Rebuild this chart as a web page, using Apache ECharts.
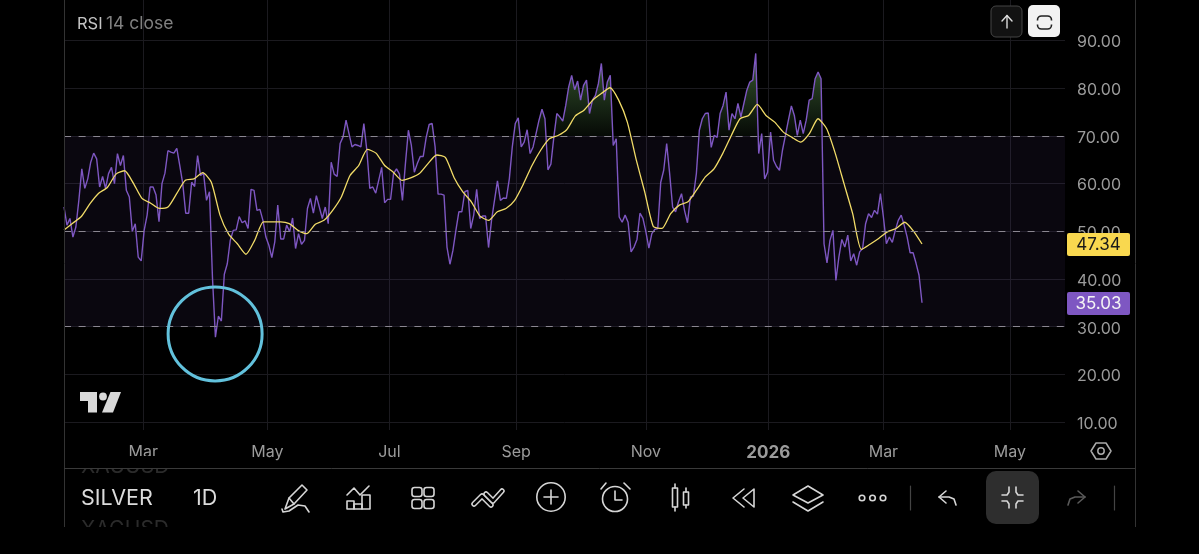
<!DOCTYPE html>
<html>
<head>
<meta charset="utf-8">
<style>
  html, body { margin: 0; padding: 0; background: #000; }
  #main { width: 1199px; height: 554px; }
</style>
<script src="https://cdn.jsdelivr.net/npm/echarts@6/dist/echarts.min.js"></script>
</head>
<body>
<div id="main"></div>
<script>
// daily RSI values, one per bar
const rsiValues = [
  55.1,51.3,52.7,48.8,50.9,56.5,63.1,59.0,61.0,64.5,
  66.4,65.2,59.3,61.5,59.0,62.1,63.4,60.0,66.3,63.8,
  65.9,58.6,57.2,50.0,51.6,44.6,43.8,50.2,53.4,59.3,
  59.3,57.6,52.0,60.0,62.2,66.9,66.6,66.4,67.4,63.8,
  60.0,53.8,53.8,60.3,59.4,65.9,61.7,62.2,56.5,58.3,
  40.4,27.8,32.2,31.2,41.0,43.2,48.1,50.2,50.3,53.1,
  51.8,52.2,50.6,58.8,58.6,54.4,54.6,52.3,48.8,47.1,
  44.5,47.8,55.5,48.4,48.4,51.3,49.9,52.8,46.4,49.5,
  47.3,48.1,54.8,56.9,53.8,57.5,55.1,52.7,55.1,51.6,
  64.5,62.0,61.5,68.4,69.8,73.3,70.5,67.7,68.2,68.0,
  67.7,72.6,67.0,59.0,59.3,58.0,60.7,63.4,56.0,56.7,
  56.7,62.1,63.1,62.0,
  56.5,64.2,71.2,68.0,62.4,64.2,65.7,65.7,69.7,72.4,
  72.6,67.7,57.8,57.8,57.6,46.7,43.1,46.0,50.2,54.1,
  54.1,58.3,58.6,50.6,53.4,58.8,52.7,53.2,53.2,46.6,
  52.3,56.5,60.6,56.5,57.0,56.9,61.0,67.7,72.6,73.8,
  67.7,68.7,71.3,66.3,67.7,70.5,73.3,75.6,73.6,62.9,
  64.1,69.8,74.7,74.0,73.1,76.4,80.3,82.7,79.7,81.5,
  77.5,80.6,81.7,74.7,77.5,78.5,81.0,85.2,77.5,81.3,
  82.7,68.0,69.4,53.0,51.9,53.4,51.9,45.7,46.7,48.3,
  53.8,52.7,49.9,46.5,49.5,50.4,50.6,60.3,62.8,68.4,
  62.1,55.1,54.1,56.2,57.9,54.4,51.8,57.2,57.4,62.1,
  71.2,73.6,74.7,74.8,67.6,70.1,69.7,74.7,76.4,79.2,
  71.2,74.7,73.6,76.8,
  74.0,76.8,79.6,81.3,81.7,87.3,66.3,70.5,61.0,62.4,
  70.8,64.9,63.6,62.8,67.0,70.1,73.3,76.3,74.3,70.1,
  73.3,70.5,73.3,77.5,77.8,82.0,83.4,82.0,47.4,43.4,
  48.1,50.2,39.7,44.6,48.3,46.7,49.2,43.8,45.3,42.9,
  45.7,46.4,51.6,53.7,52.9,54.4,53.6,57.9,53.0,47.4,
  48.8,47.7,50.2,52.3,53.4,51.3,48.8,45.5,45.5,43.3,
  40.8,35.03
];

// moving average, read about every third bar
const maValues = [
  50.3,51.7,53.1,55.8,58.0,59.2,62.0,62.7,60.1,56.9,
  55.9,54.8,55.1,57.9,60.7,61.0,62.3,60.3,53.4,49.4,
  47.4,45.2,48.1,52.0,52.0,52.0,51.6,50.2,49.5,51.5,
  52.3,54.4,57.2,61.7,63.8,67.2,66.4,63.8,62.4,
  60.7,61.2,62.1,64.2,66.0,65.5,61.3,58.3,56.2,53.2,
  52.3,54.1,54.8,56.5,59.9,63.8,67.0,69.4,70.1,71.3,
  74.2,75.4,77.5,78.9,80.1,77.5,72.9,65.2,58.3,51.0,
  50.6,53.7,55.5,56.2,58.7,61.4,63.1,66.3,70.1,73.6,
  74.3,76.6,74.3,72.9,70.8,69.7,68.7,70.5,73.6,71.5,
  66.3,60.0,53.7,46.2,47.3,48.5,49.9,50.6,51.9,50.1,47.34
];

const yTicks = [10, 20, 30, 40, 50, 60, 70, 80, 90];
const bandLevels = [70, 50, 30];
const xTickBars = [26.7, 68.5, 109.6, 152.3, 196, 237.2, 276, 318.6];
const xTickLabels = ['Mar', 'May', 'Jul', 'Sep', 'Nov', '2026', 'Mar', 'May'];
const lastRsi = '35.03';
const lastMa = '47.34';
const circledLow = [50.9, 28.5];

const GRID_LEFT = 64, GRID_W = 1001, GRID_H = 430;
const PX_PER_BAR = 858 / (rsiValues.length - 1);
const FONT = 'Inter, "Noto Sans", sans-serif';
const GRID_COLOR = '#1b1a1f';
const LABEL_COLOR = '#9b9b9b';
const ICON = '#d6d6d6';

const maStep = (rsiValues.length - 1) / (maValues.length - 1);
const rsiData = rsiValues.map((v, i) => [i, v]);
const maData = maValues.map((v, i) => [i * maStep, v]);

// part of the rsi above 70, with the crossing points added so the fill starts on the line
const overData = [];
rsiValues.forEach((v, i) => {
  if (i > 0) {
    const p = rsiValues[i - 1];
    if ((p - 70) * (v - 70) < 0) overData.push([i - 1 + (70 - p) / (v - p), 70]);
  }
  overData.push([i, Math.max(v, 70)]);
});

// graphic helpers for the app chrome around the chart
const stroke = (c, w) => ({ stroke: c, lineWidth: w, fill: null, lineCap: 'round', lineJoin: 'round' });
const pl = (points, c = ICON, w = 1.6) => ({ type: 'polyline', silent: true, z: 10, shape: { points }, style: stroke(c, w) });
const pg = (points, c = ICON, w = 1.6) => ({ type: 'polygon', silent: true, z: 10, shape: { points }, style: stroke(c, w) });
const box = (x, y, width, height, r, c = ICON, w = 1.6) => ({ type: 'rect', silent: true, z: 10, shape: { x, y, width, height, r }, style: stroke(c, w) });
const fillBox = (x, y, width, height, r, fill, z = 9) => ({ type: 'rect', silent: true, z, shape: { x, y, width, height, r }, style: { fill } });
const ring = (cx, cy, r, c = ICON, w = 1.6) => ({ type: 'circle', silent: true, z: 10, shape: { cx, cy, r }, style: stroke(c, w) });
const dot = (cx, cy, r, fill) => ({ type: 'circle', silent: true, z: 10, shape: { cx, cy, r }, style: { fill } });
const label = (x, y, text, font, fill, z = 10, align = 'left') => ({
  type: 'text', silent: true, z, x, y,
  style: { text, font, fill, textAlign: align, textVerticalAlign: 'middle' }
});

const chrome = [
  // frame
  { type: 'line', silent: true, z: 8, shape: { x1: 64.5, y1: 0, x2: 64.5, y2: 527 }, style: { stroke: '#333', lineWidth: 1 } },
  { type: 'line', silent: true, z: 8, shape: { x1: 1135.5, y1: 0, x2: 1135.5, y2: 527 }, style: { stroke: '#333', lineWidth: 1 } },

  // ghost symbols scrolled behind the toolbar
  label(81, 467, 'XAUUSD', '21px ' + FONT, '#2b2b2b', 1),
  label(81, 530, 'XAGUSD', '21px ' + FONT, '#2b2b2b', 1),
  fillBox(65, 456, 140, 12.5, 0, '#000', 2),
  fillBox(65, 527, 140, 27, 0, '#000', 2),
  { type: 'line', silent: true, z: 8, shape: { x1: 64, y1: 468.5, x2: 1135, y2: 468.5 }, style: { stroke: '#3a3a3a', lineWidth: 1 } },

  // legend
  { type: 'text', silent: true, z: 10, x: 77, y: 24, style: {
    text: '{a|RSI} {b|14 close}', textVerticalAlign: 'middle',
    rich: { a: { font: '16.5px ' + FONT, fill: '#c4c4c4' }, b: { font: '17.5px ' + FONT, fill: '#808080' } }
  } },

  // top right buttons
  { type: 'rect', silent: true, z: 9, shape: { x: 991, y: 6, width: 31, height: 31, r: 5 }, style: { fill: '#121212', stroke: '#444', lineWidth: 1 } },
  pl([[1007, 28], [1007, 15.5]], '#ddd', 1.4), pl([[1002, 21], [1007, 15.5], [1012, 21]], '#ddd', 1.4),
  fillBox(1028, 5, 32, 32, 5, '#f2f2f2'),
  box(1037.5, 16, 14, 13, 4, '#222', 1.6),
  fillBox(1035, 20.5, 5, 4, 0, '#f2f2f2', 11),
  fillBox(1049, 20.5, 5, 4, 0, '#f2f2f2', 11),

  // price tags on the axis
  fillBox(1067, 233, 63, 23, 2, '#f9d84f'),
  label(1098.5, 245, lastMa, '17px ' + FONT, '#1a1a1a', 11, 'center'),
  fillBox(1067, 292, 63, 23, 2, '#7e57c2'),
  label(1098.5, 303.5, lastRsi, '17px ' + FONT, '#f4f4f4', 11, 'center'),

  // tradingview logo
  { type: 'polygon', silent: true, z: 10, shape: { points: [[80, 392], [97, 392], [97, 412.5], [88, 412.5], [88, 401], [80, 401]] }, style: { fill: '#d9d9d9' } },
  dot(103, 396.5, 3.9, '#d9d9d9'),
  { type: 'polygon', silent: true, z: 10, shape: { points: [[110.5, 392], [121, 392], [113, 412.5], [102, 412.5]] }, style: { fill: '#d9d9d9' } },

  // settings hexagon
  pg([[1091, 451], [1096, 443], [1106, 443], [1111, 451], [1106, 459], [1096, 459]], '#aaa', 1.5),
  ring(1101, 451, 3.2, '#aaa', 1.5),

  // toolbar
  label(81, 499, 'SILVER', '21.5px ' + FONT, '#dcdcdc'),
  label(193, 499, '1D', '21.5px ' + FONT, '#dcdcdc'),

  // pen
  pg([[285, 509], [289, 498], [302, 485], [307, 490], [294, 504]]),
  pl([[289, 498], [294, 504]]),
  pl([[309, 512], [305, 506], [298, 505], [289, 511], [283, 512], [282, 509]]),
  // chart
  pl([[347, 495], [354, 488], [360, 495], [369, 486]]),
  box(347, 501, 7, 8, 0), box(354, 504, 8, 5, 0), box(362, 495, 8, 14, 0),
  // grid
  box(412, 487.5, 10, 9, 2.5), box(424, 487.5, 10, 9, 2.5), box(412, 499.5, 10, 9, 2.5), box(424, 499.5, 10, 9, 2.5),
  // double chevrons
  pl([[474, 504], [482, 496], [491, 505]], ICON, 5.5), pl([[474, 504], [482, 496], [491, 505]], '#000', 2.5),
  pl([[486, 494], [493, 501], [502, 491]], ICON, 5.5), pl([[486, 494], [493, 501], [502, 491]], '#000', 2.5),
  // plus
  ring(551, 497, 14.2), pl([[551, 490], [551, 504]]), pl([[544, 497], [558, 497]]),
  // alarm
  ring(615, 499, 12.5), pl([[615, 491], [615, 500], [622, 500]]), pl([[601, 489], [606, 483]]), pl([[624, 483], [630, 489]]),
  // candles
  box(672.5, 488, 5, 19, 0), pl([[675, 484], [675, 488]]), pl([[675, 507], [675, 511]]),
  box(683.5, 492, 5, 13, 0), pl([[686, 488], [686, 492]]), pl([[686, 505], [686, 508]]),
  // rewind
  pl([[744, 489], [733, 498], [744, 507]]), pg([[754, 489], [743, 498], [754, 507]]),
  // layers
  pg([[808, 486], [823, 495], [808, 503], [793, 495]]), pl([[793, 502], [808, 511], [823, 502]]),
  // more
  ring(862, 498, 2.8), ring(872.5, 498, 2.8), ring(883, 498, 2.8),
  pl([[910.5, 486], [910.5, 510]], '#444', 1.2),
  // undo
  pl([[946, 491], [939, 497], [946, 503]]), pl([[939, 497], [949, 497], [954, 499], [956, 505]]),
  // active shrink button
  fillBox(986, 471, 53, 53, 10, '#2e2e2e'),
  pl([[1009, 487], [1009, 492], [1007, 495], [1002, 495]]),
  pl([[1016, 487], [1016, 492], [1018, 495], [1023, 495]]),
  pl([[1009, 508], [1009, 504], [1007, 501], [1002, 501]]),
  pl([[1016, 508], [1016, 504], [1018, 501], [1023, 501]]),
  // redo
  pl([[1078, 491], [1085, 497], [1078, 503]], '#5a5a5a'), pl([[1085, 497], [1075, 497], [1070, 499], [1068, 505]], '#5a5a5a'),
  pl([[1114.5, 486], [1114.5, 510]], '#444', 1.2)
];

const chart = echarts.init(document.getElementById('main'), null, { renderer: 'canvas' });

chart.setOption({
  animation: false,
  backgroundColor: '#000',
  grid: { left: GRID_LEFT, top: 0, width: GRID_W, height: GRID_H, containLabel: false },
  xAxis: {
    type: 'value',
    min: 0,
    max: GRID_W / PX_PER_BAR,
    axisLine: { show: false },
    axisTick: { show: false, customValues: xTickBars },
    splitLine: { show: true, lineStyle: { color: GRID_COLOR, width: 1 } },
    axisLabel: {
      customValues: xTickBars,
      margin: 14,
      color: LABEL_COLOR,
      fontFamily: FONT,
      fontSize: 16,
      showMinLabel: true,
      showMaxLabel: true,
      formatter: (val) => {
        const text = xTickLabels[xTickBars.indexOf(val)];
        return text === '2026' ? '{b|2026}' : text;
      },
      rich: { b: { fontWeight: 'bold', fontFamily: FONT, fontSize: 17, color: LABEL_COLOR } }
    }
  },
  yAxis: {
    type: 'value',
    position: 'right',
    min: 8.35,
    max: 98.5,
    axisLine: { show: false },
    axisTick: { show: false, customValues: yTicks },
    splitLine: { show: true, lineStyle: { color: GRID_COLOR, width: 1 } },
    axisLabel: {
      customValues: yTicks,
      margin: 12,
      formatter: (val) => '{n|' + val.toFixed(2) + '}',
      rich: { n: { color: LABEL_COLOR, fontFamily: FONT, fontSize: 16, padding: [4, 0, 0, 0] } }
    }
  },
  series: [
    {
      name: 'Band',
      type: 'line',
      data: [],
      silent: true,
      z: 1,
      markArea: {
        silent: true,
        itemStyle: { color: 'rgba(126,87,194,0.08)' },
        data: [[{ yAxis: bandLevels[2] }, { yAxis: bandLevels[0] }]]
      },
      markLine: {
        silent: true,
        symbol: 'none',
        label: { show: false },
        lineStyle: { color: '#8b8791', type: [7, 7.6], width: 1 },
        data: bandLevels.map((v) => ({ yAxis: v }))
      }
    },
    {
      name: 'Overbought',
      type: 'line',
      data: overData,
      showSymbol: false,
      silent: true,
      z: 2,
      lineStyle: { width: 0 },
      areaStyle: {
        origin: 70,
        opacity: 1,
        color: {
          type: 'linear', x: 0, y: 0, x2: 0, y2: 1,
          colorStops: [
            { offset: 0, color: 'rgb(60,100,50)' },
            { offset: 0.45, color: 'rgb(32,52,28)' },
            { offset: 1, color: 'rgb(6,10,6)' }
          ]
        }
      }
    },
    {
      name: 'RSI',
      type: 'line',
      data: rsiData,
      showSymbol: false,
      z: 3,
      lineStyle: { color: '#7e57c2', width: 1.4 }
    },
    {
      name: 'MA',
      type: 'line',
      data: maData,
      showSymbol: false,
      smooth: 0.2,
      z: 4,
      lineStyle: { color: '#f2dc68', width: 1.3 }
    },
    {
      name: 'Circled low',
      type: 'scatter',
      data: [circledLow],
      symbol: 'circle',
      symbolSize: 94,
      silent: true,
      z: 5,
      itemStyle: { color: 'rgba(0,0,0,0)', borderColor: '#62c1dc', borderWidth: 3, opacity: 1 }
    }
  ],
  graphic: { elements: chrome }
});
</script>
</body>
</html>
